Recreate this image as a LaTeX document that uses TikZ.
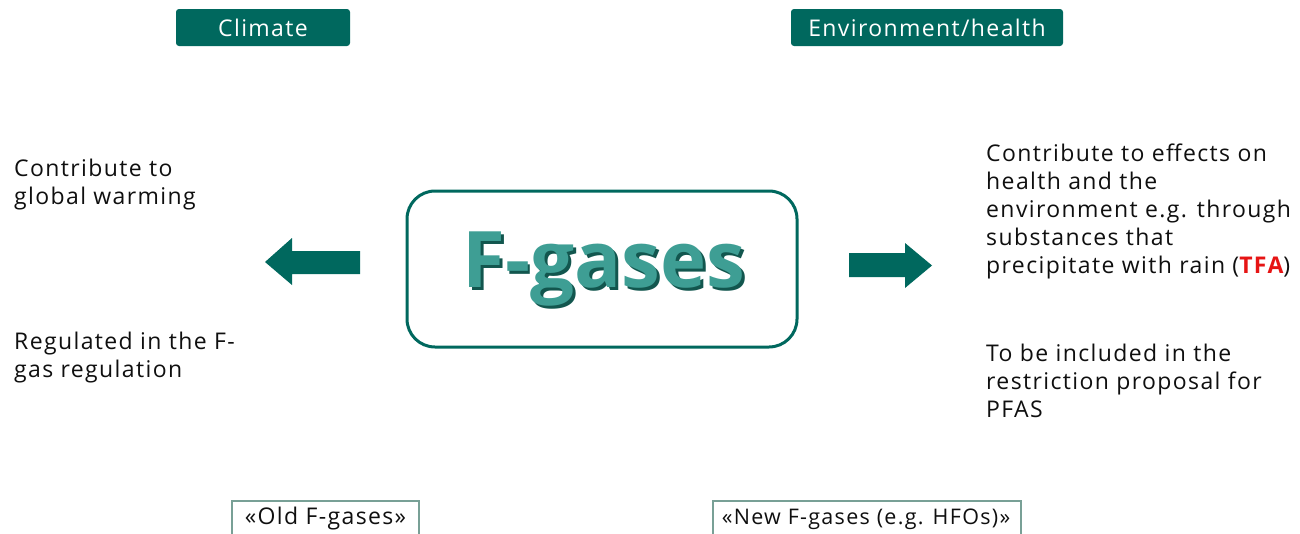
\documentclass[tikz,border=0pt]{standalone}
\usepackage{fontspec}
\setmainfont{Open Sans}
\newfontfamily\bodyfont{Open Sans}[LetterSpace=6]
\definecolor{teal1}{RGB}{0,104,94}
\definecolor{tealfill}{RGB}{62,158,148}
\definecolor{tealshadow}{RGB}{18,86,78}
\definecolor{tfared}{RGB}{230,20,20}
\definecolor{boxline}{RGB}{120,160,150}
\definecolor{txt}{RGB}{15,15,15}
\newcommand{\lines}[1]{\begin{tabular}[t]{@{}l@{}}#1\end{tabular}}
\tikzset{
  header/.style={fill=teal1, rounded corners=3pt, text=white, inner sep=0pt,
     font=\bodyfont\fontsize{23}{28}\selectfont},
  body/.style={anchor=base west, inner sep=0pt, text=txt,
     font=\bodyfont\fontsize{23}{28}\selectfont},
  tagtext/.style={anchor=base, inner sep=0pt, text=txt,
     font=\bodyfont\fontsize{23}{28}\selectfont},
  tagline/.style={draw=boxline, line width=1.2pt},
  arrowshape/.style={fill=teal1, draw=none},
  bigtext/.style={font=\bfseries\fontsize{78}{80}\selectfont, inner sep=0pt}
}
\begin{document}
\begin{tikzpicture}[x=1pt,y=-1pt]
\useasboundingbox (0,0) rectangle (1300,533);
% headers
\node[header, minimum width=174pt, minimum height=37pt] (climate) at (263,27.5) {Climate};
\node[header, minimum width=272pt, minimum height=37pt] (env) at (927,27.5) {Environment/health};
% central box
\node[draw=teal1, line width=3pt, rounded corners=28pt, minimum width=390pt, minimum height=156pt, inner sep=0pt] (fgbox) at (602,269) {};
\node[bigtext, text=tealshadow] (fgshadow) at (606.5,272) {F-gases};
\node[bigtext, text=tealfill] (fg) at (604,269.5) {F-gases};
% arrows
\fill[arrowshape] (360,251) -- (292,251) -- (292,238) -- (265,262) -- (292,285) -- (292,274) -- (360,274) -- cycle;
\fill[arrowshape] (849,253) -- (905,253) -- (905,243) -- (932,265.5) -- (905,288) -- (905,277) -- (849,277) -- cycle;
% left texts
\node[body] (l1) at (14,176) {\lines{Contribute to\\global warming}};
\node[body] (l2) at (14,349) {\lines{Regulated in the F-\\gas regulation}};
% right texts
\node[body] (r1) at (986,161) {\lines{Contribute to effects on\\health and the\\environment e.g. through\\substances that\\precipitate with rain ({\color{tfared}\bfseries TFA})}};
\node[body] (r2) at (986,361) {\lines{To be included in the\\restriction proposal for\\PFAS}};
% bottom tags
\draw[tagline] (232,540) -- (232,501) -- (419,501) -- (419,540);
\node[tagtext] (old) at (325.5,524) {«Old F-gases»};
\draw[tagline] (713,540) -- (713,501) -- (1021,501) -- (1021,540);
\node[tagtext, font=\bodyfont\fontsize{21.5}{26}\selectfont] (new) at (866,524) {«New F-gases (e.g. HFOs)»};
\end{tikzpicture}
\end{document}
